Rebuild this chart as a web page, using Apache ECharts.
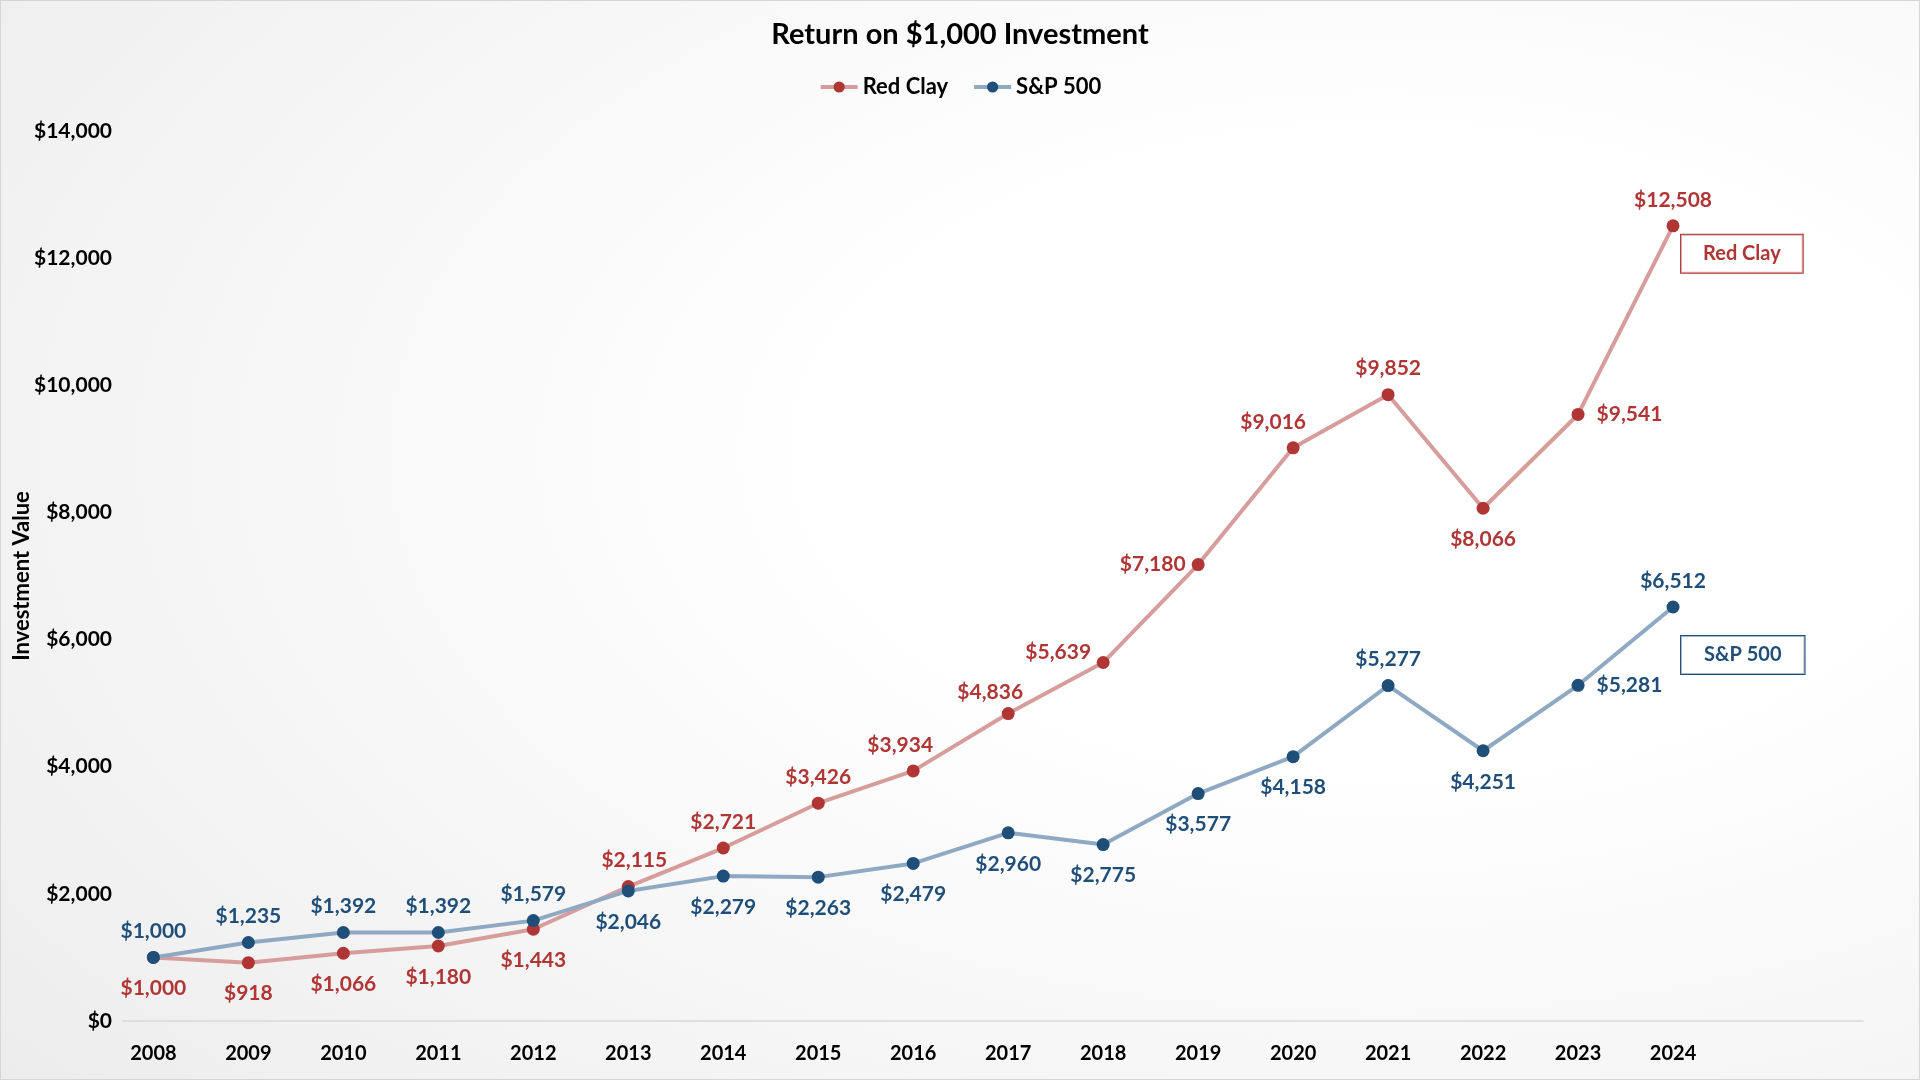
<!DOCTYPE html>
<html>
<head>
<meta charset="utf-8">
<script src="https://cdn.jsdelivr.net/npm/echarts@6/dist/echarts.min.js"></script>
<style>
  html, body { margin: 0; padding: 0; }
  body { width: 1920px; height: 1080px; overflow: hidden;
    background: radial-gradient(ellipse 95% 95% at 72% 42%, #ffffff 0%, #ffffff 30%, #f0f0f0 85%, #ebebeb 100%); }
  #chart { width: 1920px; height: 1080px; box-sizing: border-box; border: 1px solid #d6d6d6; }
</style>
</head>
<body>
<div id="chart"></div>
<script>
const years = [2008, 2009, 2010, 2011, 2012, 2013, 2014, 2015, 2016, 2017, 2018, 2019, 2020, 2021, 2022, 2023, 2024];
const redClay = [1000, 918, 1066, 1180, 1443, 2115, 2721, 3426, 3934, 4836, 5639, 7180, 9016, 9852, 8066, 9541, 12508];
const sp500 = [1000, 1235, 1392, 1392, 1579, 2046, 2279, 2263, 2479, 2960, 2775, 3577, 4158, 5277, 4251, 5281, 6512];
const yTicks = [0, 2000, 4000, 6000, 8000, 10000, 12000, 14000];

// label placement (style only)
const redPos = ['bottom','bottom','bottom','bottom','bottom','top','top','top','top','top','top','left','top','top','bottom','right','top'];
const redOff = [[0,0],[0,0],[0,0],[0,0],[0,0],[6,0],[0,0],[0,0],[-13,0],[-18,5],[-45,16],[0,0],[-20,0],[0,0],[0,0],[0,0],[0,0]];
const spPos = ['top','top','top','top','top','bottom','bottom','bottom','bottom','bottom','bottom','bottom','bottom','top','bottom','right','top'];

const FONT = 'Lato';
const RED_DARK = '#B03535', RED_LINE = '#D79C9C';
const BLUE_DARK = '#1F4E79', BLUE_LINE = '#8FA9C2';
const DIST = { top: 9, bottom: 14, left: 6, right: 12 };

function fmt(v) { return '$' + v.toLocaleString('en-US'); }

function build(vals, pos, off) {
  return vals.map((v, i) => ({
    value: [years[i], v],
    label: { position: pos[i], distance: DIST[pos[i]], offset: off ? off[i] : [0, 0] }
  }));
}

const chart = echarts.init(document.getElementById('chart'), null, { renderer: 'canvas' });
const labelBase = (color) => ({
  show: true, color: color, fontFamily: FONT, fontWeight: 'bold', fontSize: 21,
  formatter: p => fmt(p.value[1])
});

chart.setOption({
  backgroundColor: 'transparent',
  animation: false,
  title: {
    text: 'Return on $1,000 Investment', left: 'center', top: 14,
    textStyle: { fontFamily: FONT, fontWeight: 'bold', fontSize: 29, color: '#000' }
  },
  legend: {
    top: 70, left: 'center', itemWidth: 37, itemHeight: 14, itemGap: 24,
    lineStyle: { width: 4 },
    textStyle: { fontFamily: FONT, fontWeight: 'bold', fontSize: 22, color: '#000' },
    data: ['Red Clay', 'S&P 500']
  },
  grid: { left: 122, right: 56, top: 130, bottom: 58, outerBoundsMode: 'none', containLabel: false },
  xAxis: {
    type: 'value', min: 2007.68, max: 2026,
    axisLine: { show: true, lineStyle: { color: '#d9d9d9', width: 1.5 } },
    axisTick: { show: false },
    splitLine: { show: false },
    axisLabel: { customValues: years, margin: 23, color: '#000', fontFamily: FONT, fontWeight: 'bold', fontSize: 20,
      formatter: v => String(v) }
  },
  yAxis: {
    type: 'value', min: 0, max: 14000, interval: 2000,
    name: 'Investment Value', nameLocation: 'middle', nameGap: 90, nameRotate: 90, nameMoveOverlap: false,
    nameTextStyle: { fontFamily: FONT, fontWeight: 'bold', fontSize: 22, color: '#000' },
    axisLine: { show: false }, axisTick: { show: false }, splitLine: { show: false },
    axisLabel: { margin: 11, color: '#000', fontFamily: FONT, fontWeight: 'bold', fontSize: 21,
      formatter: v => fmt(v) }
  },
  series: [
    {
      name: 'Red Clay', type: 'line', data: build(redClay, redPos, redOff),
      symbol: 'circle', symbolSize: 13,
      lineStyle: { color: RED_LINE, width: 4 },
      itemStyle: { color: RED_DARK },
      label: labelBase(RED_DARK),
      endLabel: { show: true, formatter: '{a}', distance: 8, offset: [0, 28],
        color: RED_DARK, fontFamily: FONT, fontWeight: 'bold', fontSize: 20,
        borderColor: RED_DARK, borderWidth: 1, padding: [9, 22, 9, 22], backgroundColor: 'rgba(255,255,255,0.6)' },
      z: 2
    },
    {
      name: 'S&P 500', type: 'line', data: build(sp500, spPos, null),
      symbol: 'circle', symbolSize: 13,
      lineStyle: { color: BLUE_LINE, width: 4 },
      itemStyle: { color: BLUE_DARK },
      label: labelBase(BLUE_DARK),
      endLabel: { show: true, formatter: '{a}', distance: 8, offset: [0, 48],
        color: BLUE_DARK, fontFamily: FONT, fontWeight: 'bold', fontSize: 20,
        borderColor: BLUE_DARK, borderWidth: 1, padding: [9, 23, 9, 23], backgroundColor: 'rgba(255,255,255,0.6)' },
      z: 3
    }
  ]
});
</script>
</body>
</html>
